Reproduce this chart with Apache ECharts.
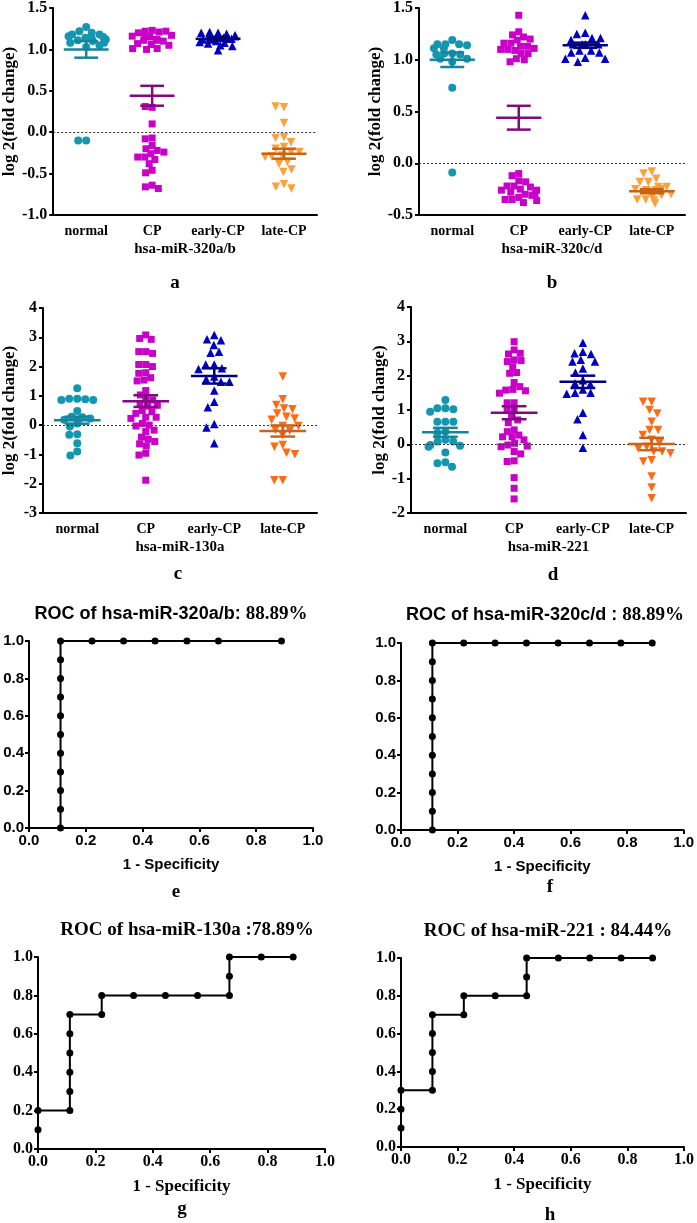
<!DOCTYPE html>
<html><head><meta charset="utf-8">
<script src="https://cdn.jsdelivr.net/npm/echarts@6/dist/echarts.min.js"></script>
<style>html,body{margin:0;padding:0;background:#fff}#c{width:697px;height:1223px}</style>
</head><body><div id="c"></div>
<script>
// ---------- data ----------
const categories = ['normal', 'CP', 'early-CP', 'late-CP'];

// panel a : hsa-miR-320a/b
const aNormal = [1.27, 1.22, 1.20, 1.18, 1.18, 1.16, 1.15, 1.14, 1.14, 1.12, 1.11, 1.10, 1.08, 1.08, 1.05, 1.03, -0.10, -0.10];
const aCP = [1.23, 1.22, 1.21, 1.22, 1.20, 1.17, 1.16, 1.15, 1.16, 1.12, 1.11, 1.10, 1.11, 1.07, 1.06, 1.05, 1.06, 1.01, 1.00, 1.01,
  0.30, 0.31, 0.10, -0.07, -0.08, -0.16, -0.20, -0.22, -0.24, -0.26, -0.30, -0.30, -0.33, -0.38, -0.46, -0.49, -0.64, -0.66, -0.68];
const aEarly = [1.20, 1.21, 1.19, 1.20, 1.16, 1.17, 1.15, 1.13, 1.13, 1.12, 1.14, 1.13, 1.12, 1.10, 1.08, 1.07, 1.09, 1.04, 1.05, 0.99];
const aLate = [0.30, 0.31, 0.11, -0.06, -0.07, -0.12, -0.18, -0.20, -0.24, -0.24, -0.28, -0.29, -0.30, -0.36, -0.38, -0.45, -0.48, -0.63, -0.66, -0.68];
const aMean = [1.00, 0.44, 1.13, -0.26];
const aSem = [0.10, 0.12, 0.02, 0.06];

// panel b : hsa-miR-320c/d
const bNormal = [1.19, 1.15, 1.15, 1.15, 1.14, 1.11, 1.11, 1.06, 1.06, 1.05, 1.05, 1.01, 1.01, 0.98, 0.73, -0.09];
const bCP = [1.43, 1.27, 1.24, 1.22, 1.20, 1.19, 1.16, 1.16, 1.13, 1.13, 1.11, 1.10, 1.10, 1.09, 1.06, 1.06, 1.01, 1.00, 0.98,
  -0.10, -0.12, -0.17, -0.18, -0.22, -0.22, -0.23, -0.25, -0.26, -0.26, -0.28, -0.30, -0.30, -0.31, -0.33, -0.35, -0.35, -0.36, -0.38];
const bEarly = [1.43, 1.26, 1.25, 1.21, 1.21, 1.19, 1.15, 1.15, 1.15, 1.15, 1.09, 1.09, 1.07, 1.07, 1.02, 1.01, 1.01, 0.98];
const bLate = [-0.08, -0.10, -0.15, -0.18, -0.18, -0.23, -0.23, -0.25, -0.25, -0.26, -0.26, -0.26, -0.30, -0.30, -0.31, -0.31, -0.35, -0.35, -0.36, -0.39];
const bMean = [1.00, 0.44, 1.14, -0.27];
const bSem = [0.07, 0.115, 0.025, 0.02];

// panel c : hsa-miR-130a
const cNormal = [1.26, 0.90, 0.90, 0.88, 0.86, 0.86, 0.48, 0.29, 0.27, 0.23, 0.18, 0.15, 0.06, -0.05, -0.31, -0.33, -0.62, -0.90, -1.04];
const cCP = [3.08, 2.96, 2.93, 2.51, 2.51, 2.45, 2.07, 2.07, 2.00, 1.79, 1.77, 1.62, 1.54, 1.51, 1.18, 1.03, 0.88, 0.86, 0.74, 0.68,
  0.65, 0.50, 0.46, 0.40, 0.27, 0.27, 0.23, 0.06, 0.00, -0.03, -0.17, -0.22, -0.41, -0.48, -0.56, -0.64, -0.71, -0.96, -1.02, -1.88];
const cEarly = [3.08, 2.93, 2.90, 2.74, 2.51, 2.47, 2.07, 2.07, 1.94, 1.92, 1.66, 1.57, 1.48, 1.48, 1.18, 0.80, 0.61, 0.04, -0.08, -0.62];
const cLate = [1.66, 0.88, 0.69, 0.57, 0.54, 0.40, 0.29, 0.23, 0.18, -0.03, -0.03, -0.17, -0.19, -0.34, -0.68, -0.74, -0.94, -0.99, -1.88, -1.88];
const cMean = [0.17, 0.82, 1.68, -0.20];
const cSem = [0.12, 0.20, 0.26, 0.19];

// panel d : hsa-miR-221
const dNormal = [1.29, 1.05, 1.05, 1.02, 0.95, 0.66, 0.66, 0.66, 0.37, 0.34, 0.13, 0.08, 0.08, -0.02, -0.04, -0.07, -0.24, -0.52, -0.55, -0.65];
const dCP = [2.99, 2.75, 2.65, 2.63, 2.46, 2.44, 2.41, 2.26, 2.09, 2.07, 1.80, 1.68, 1.60, 1.58, 1.56, 1.49, 1.21, 1.21, 1.00, 1.00,
  0.81, 0.71, 0.63, 0.42, 0.37, 0.27, 0.22, 0.22, 0.13, 0.03, -0.02, -0.05, -0.07, -0.21, -0.28, -0.48, -0.50, -0.97, -1.28, -1.59];
const dEarly = [2.96, 2.70, 2.65, 2.63, 2.46, 2.41, 2.41, 2.21, 2.09, 1.87, 1.78, 1.75, 1.60, 1.50, 1.50, 1.47, 0.92, 0.73, 0.27, -0.10];
const dLate = [1.24, 1.24, 1.00, 0.90, 0.66, 0.42, 0.42, 0.27, 0.13, 0.03, -0.07, -0.12, -0.21, -0.21, -0.26, -0.46, -0.50, -0.94, -1.26, -1.57];
const dMean = [0.35, 0.92, 1.82, 0.01];
const dSem = [0.13, 0.19, 0.18, 0.18];

// ROC curves (1 - specificity, sensitivity)
const rocEFpr = [0.111, 0.111, 0.111, 0.111, 0.111, 0.111, 0.111, 0.111, 0.111, 0.111, 0.111, 0.222, 0.333, 0.444, 0.556, 0.667, 0.889];
const rocETpr = [0.0, 0.1, 0.2, 0.3, 0.4, 0.5, 0.6, 0.7, 0.8, 0.9, 1.0, 1.0, 1.0, 1.0, 1.0, 1.0, 1.0];
const rocFFpr = [0.111, 0.111, 0.111, 0.111, 0.111, 0.111, 0.111, 0.111, 0.111, 0.111, 0.111, 0.222, 0.333, 0.444, 0.556, 0.667, 0.778, 0.889];
const rocFTpr = [0.0, 0.1, 0.2, 0.3, 0.4, 0.5, 0.6, 0.7, 0.8, 0.9, 1.0, 1.0, 1.0, 1.0, 1.0, 1.0, 1.0, 1.0];
const rocGFpr = [0, 0, 0.111, 0.111, 0.111, 0.111, 0.111, 0.111, 0.222, 0.222, 0.333, 0.444, 0.556, 0.667, 0.667, 0.667, 0.778, 0.889];
const rocGTpr = [0.1, 0.2, 0.2, 0.3, 0.4, 0.5, 0.6, 0.7, 0.7, 0.8, 0.8, 0.8, 0.8, 0.8, 0.9, 1.0, 1.0, 1.0];
const rocHFpr = [0, 0, 0, 0.111, 0.111, 0.111, 0.111, 0.111, 0.222, 0.222, 0.333, 0.444, 0.444, 0.444, 0.556, 0.667, 0.778, 0.889];
const rocHTpr = [0.1, 0.2, 0.3, 0.3, 0.4, 0.5, 0.6, 0.7, 0.7, 0.8, 0.8, 0.8, 0.9, 1.0, 1.0, 1.0, 1.0, 1.0];

// ---------- styling ----------
const SERIF = '"Liberation Serif","Times New Roman",serif';
const SANS = '"Liberation Sans",Arial,sans-serif';
const SYMBOLS = ['circle', 'rect', 'triangle', 'triangle'];
const SIZES = [8, 7, 8.5, 8.5];

const grids = [], xAxes = [], yAxes = [], series = [], graphics = [];

function addDotPanel(cfg) {
  const gi = grids.length;
  grids.push({ left: cfg.left, top: cfg.top, width: cfg.width, height: cfg.height });
  xAxes.push({
    gridIndex: gi, type: 'category', data: categories, boundaryGap: true,
    jitter: 40, jitterOverlap: false, jitterMargin: 0,
    axisLine: { onZero: false, lineStyle: { color: '#000', width: 2 } },
    axisTick: { alignWithLabel: true, interval: 0, length: 5, lineStyle: { color: '#000', width: 2 } },
    axisLabel: { interval: 0, hideOverlap: false, color: '#000', fontFamily: SERIF, fontWeight: 'bold', fontSize: 14, margin: 9 },
    splitLine: { show: false },
    name: cfg.xName, nameLocation: 'middle', nameGap: 27,
    nameTextStyle: { color: '#000', fontFamily: SERIF, fontWeight: 'bold', fontSize: 15 }
  });
  yAxes.push({
    gridIndex: gi, type: 'value', min: cfg.yMin, max: cfg.yMax, interval: cfg.yInt,
    axisLine: { show: true, onZero: false, lineStyle: { color: '#000', width: 2 } },
    axisTick: { show: true, length: 4, lineStyle: { color: '#000', width: 2 } },
    axisLabel: { color: '#000', fontFamily: SERIF, fontWeight: 'bold', fontSize: 16, margin: 6,
      formatter: v => cfg.decimals ? v.toFixed(1) : String(Math.round(v)) },
    splitLine: { show: false },
    name: 'log 2(fold change)', nameLocation: 'middle', nameGap: cfg.yNameGap, nameRotate: 90,
    nameTextStyle: { color: '#000', fontFamily: SERIF, fontWeight: 'bold', fontSize: 17 }
  });
  series.push({
    type: 'line', xAxisIndex: gi, yAxisIndex: gi, data: [], z: 1, silent: true,
    markLine: { silent: true, symbol: ['none', 'none'], label: { show: false }, animation: false,
      lineStyle: { color: '#333', width: 1, type: [2, 2] }, data: [{ yAxis: 0 }] }
  });
  cfg.groups.forEach((vals, ci) => {
    series.push({
      type: 'scatter', xAxisIndex: gi, yAxisIndex: gi,
      data: vals.map(v => [ci, v]),
      symbol: SYMBOLS[ci], symbolRotate: ci === 3 ? 180 : 0, symbolSize: SIZES[ci],
      itemStyle: { color: cfg.colors[ci], opacity: 1 }, z: 3
    });
  });
  const meanColors = cfg.meanColors;
  series.push({
    type: 'custom', xAxisIndex: gi, yAxisIndex: gi, z: 5, silent: true,
    data: cfg.means.map((m, i) => [i, m, cfg.sems[i]]),
    encode: { x: 0, y: 1 },
    renderItem: (params, api) => {
      const ci = api.value(0), m = api.value(1), s = api.value(2);
      const p = api.coord([ci, m]);
      const hi = api.coord([ci, m + s]);
      const lo = api.coord([ci, m - s]);
      const bw = api.size([1, 0])[0];
      const half = bw * 0.34, cap = bw * 0.18;
      const st = { stroke: meanColors[ci], lineWidth: 2.5 };
      return {
        type: 'group', children: [
          { type: 'line', shape: { x1: p[0] - half, y1: p[1], x2: p[0] + half, y2: p[1] }, style: st },
          { type: 'line', shape: { x1: p[0], y1: hi[1], x2: p[0], y2: lo[1] }, style: st },
          { type: 'line', shape: { x1: p[0] - cap, y1: hi[1], x2: p[0] + cap, y2: hi[1] }, style: st },
          { type: 'line', shape: { x1: p[0] - cap, y1: lo[1], x2: p[0] + cap, y2: lo[1] }, style: st }
        ]
      };
    }
  });
}

function addRocPanel(cfg) {
  const gi = grids.length;
  grids.push({ left: cfg.left, top: cfg.top, width: cfg.width, height: cfg.height });
  const common = () => ({
    gridIndex: gi, type: 'value', min: 0, max: 1, interval: 0.2,
    splitLine: { show: false },
    axisLine: { show: true, onZero: false, lineStyle: { color: '#000', width: 2 } },
    axisTick: { show: true, length: 4, lineStyle: { color: '#000', width: 2 } },
    axisLabel: { color: '#000', fontFamily: cfg.font, fontWeight: 'bold', fontSize: cfg.tickSize, margin: 5,
      formatter: v => v.toFixed(1) }
  });
  xAxes.push(Object.assign(common(), {
    name: '1 - Specificity', nameLocation: 'middle', nameGap: 29,
    nameTextStyle: { color: '#000', fontFamily: cfg.font, fontWeight: 'bold', fontSize: cfg.nameSize }
  }));
  yAxes.push(common());
  series.push({
    type: 'line', xAxisIndex: gi, yAxisIndex: gi,
    data: cfg.fpr.map((x, i) => [x, cfg.tpr[i]]),
    symbol: 'circle', symbolSize: 7, showSymbol: true, showAllSymbol: true, clip: false,
    lineStyle: { color: '#000', width: 2 }, itemStyle: { color: '#000' }, z: 3
  });
  graphics.push({
    type: 'text', x: cfg.titleX, y: cfg.titleY, z: 10,
    style: {
      text: cfg.title, align: 'center', verticalAlign: 'middle',
      rich: {
        s: { fontFamily: SANS, fontWeight: 'bold', fontSize: 18, fill: '#000' },
        t: { fontFamily: SERIF, fontWeight: 'bold', fontSize: 19, fill: '#000' }
      }
    }
  });
}

const colsLight = ['#1496b0', '#c800c8', '#0000c0', '#ffa03c'];
const colsDark = ['#1496b0', '#c800c8', '#0000c0', '#ff6a14'];
const meanLight = ['#16849c', '#800a80', '#00007a', '#c8640f'];
const meanDark = ['#16849c', '#800a80', '#00007a', '#c8641e'];

addDotPanel({ left: 47, top: 7, width: 270, height: 208, yMin: -1, yMax: 1.5, yInt: 0.5, decimals: true, yNameGap: 32,
  xName: 'hsa-miR-320a/b', groups: [aNormal, aCP, aEarly, aLate], means: aMean, sems: aSem, colors: colsLight, meanColors: meanLight });
addDotPanel({ left: 419, top: 7, width: 266, height: 208, yMin: -0.5, yMax: 1.5, yInt: 0.5, decimals: true, yNameGap: 31,
  xName: 'hsa-miR-320c/d', groups: [bNormal, bCP, bEarly, bLate], means: bMean, sems: bSem, colors: colsLight, meanColors: meanLight });
addDotPanel({ left: 40, top: 308, width: 277, height: 205, yMin: -3, yMax: 4, yInt: 1, decimals: false, yNameGap: 25,
  xName: 'hsa-miR-130a', groups: [cNormal, cCP, cEarly, cLate], means: cMean, sems: cSem, colors: colsDark, meanColors: meanDark });
addDotPanel({ left: 411, top: 307, width: 275, height: 206, yMin: -2, yMax: 4, yInt: 1, decimals: false, yNameGap: 23,
  xName: 'hsa-miR-221', groups: [dNormal, dCP, dEarly, dLate], means: dMean, sems: dSem, colors: colsDark, meanColors: meanDark });

addRocPanel({ left: 29, top: 641, width: 284, height: 187, font: SANS, tickSize: 15, nameSize: 15, fpr: rocEFpr, tpr: rocETpr,
  title: '{s|ROC of hsa-miR-320a/b: }{t|88.89%}', titleX: 171, titleY: 614 });
addRocPanel({ left: 401, top: 643, width: 284, height: 187, font: SANS, tickSize: 15, nameSize: 15, fpr: rocFFpr, tpr: rocFTpr,
  title: '{s|ROC of hsa-miR-320c/d : }{t|88.89%}', titleX: 545, titleY: 615 });
addRocPanel({ left: 38, top: 957, width: 287, height: 192, font: SERIF, tickSize: 16, nameSize: 17, fpr: rocGFpr, tpr: rocGTpr,
  title: '{t|ROC of hsa-miR-130a :78.89%}', titleX: 187, titleY: 930 });
addRocPanel({ left: 401, top: 958, width: 283, height: 189, font: SERIF, tickSize: 16, nameSize: 17, fpr: rocHFpr, tpr: rocHTpr,
  title: '{t|ROC of hsa-miR-221 : 84.44%}', titleX: 548, titleY: 931 });

const letters = [['a', 175, 283], ['b', 552, 283], ['c', 178, 574], ['d', 553, 575],
  ['e', 176, 892], ['f', 550, 887], ['g', 182, 1209], ['h', 550, 1215]];
letters.forEach(([t, x, y]) => graphics.push({
  type: 'text', x, y, z: 10,
  style: { text: t, align: 'center', verticalAlign: 'middle', fontFamily: SERIF, fontWeight: 'bold', fontSize: 19, fill: '#000' }
}));

const chart = echarts.init(document.getElementById('c'), null, { renderer: 'canvas' });
chart.setOption({
  animation: false,
  backgroundColor: '#fff',
  grid: grids, xAxis: xAxes, yAxis: yAxes, series: series,
  graphic: graphics
});
</script>
</body></html>
